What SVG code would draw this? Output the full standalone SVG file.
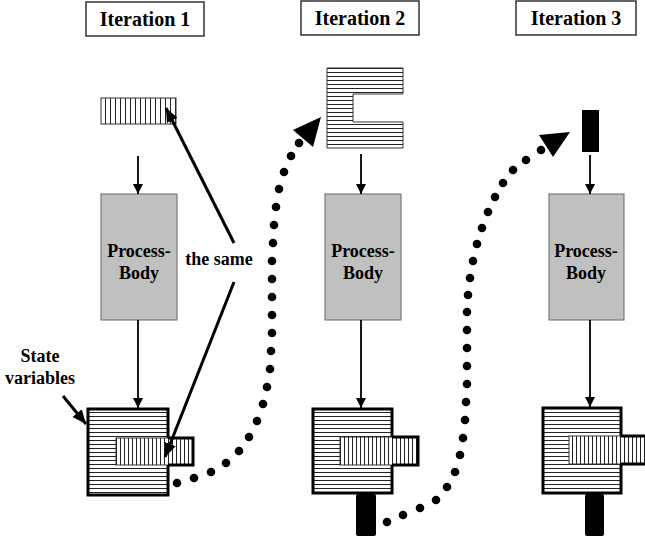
<svg xmlns="http://www.w3.org/2000/svg" width="645" height="539" viewBox="0 0 645 539">
<style>
text{font-family:'Liberation Serif','Times New Roman',Times,serif;font-weight:700;fill:#000}
.lbl{font-size:20px;text-anchor:middle}
.t18{font-size:18px;text-anchor:middle}
.lblbox{fill:#fff;stroke:#333;stroke-width:1.5}
.body{fill:#c0c0c0;stroke:#666;stroke-width:1}
.thin{stroke:#000;stroke-width:1.8;fill:none}
.thick{stroke:#000;stroke-width:3;fill:none}
.dot{fill:#000}
.bar{fill:#000}
</style>
<defs>
<pattern id="hh" width="4" height="4" patternUnits="userSpaceOnUse"><rect width="4" height="4" fill="#fff"/><rect y="0" width="4" height="1" fill="#222"/></pattern>
<pattern id="vv" width="4" height="4" patternUnits="userSpaceOnUse"><rect width="4" height="4" fill="#fff"/><rect x="0" width="1" height="4" fill="#222"/></pattern>
<pattern id="vv5" width="5" height="5" patternUnits="userSpaceOnUse"><rect width="5" height="5" fill="#fff"/><rect x="0" width="1" height="5" fill="#222"/></pattern>
<marker id="ah" markerUnits="userSpaceOnUse" markerWidth="10" markerHeight="10" refX="10" refY="5" orient="auto"><path d="M0,0 L10,5 L0,10 Z" fill="#000"/></marker>
<marker id="ahb" markerUnits="userSpaceOnUse" markerWidth="14" markerHeight="12" refX="14" refY="6" orient="auto"><path d="M0,0 L14,6 L0,12 Z" fill="#000"/></marker>
</defs>

<g id="label-iter1"><rect class="lblbox" x="86" y="2" width="118" height="34"/><text class="lbl" x="145" y="26" font-family="Liberation Serif, serif">Iteration 1</text></g>
<g id="label-iter2"><rect class="lblbox" x="301" y="1" width="118" height="34"/><text class="lbl" x="360" y="25" font-family="Liberation Serif, serif">Iteration 2</text></g>
<g id="label-iter3"><rect class="lblbox" x="516" y="1" width="120" height="34"/><text class="lbl" x="576" y="25" font-family="Liberation Serif, serif">Iteration 3</text></g>

<g id="input1"><rect x="101" y="98" width="75" height="26" fill="url(#vv5)" stroke="#333" stroke-width="1"/></g>
<g id="input2"><path d="M327,68 H403 V94 H353 V122 H403 V148 H327 Z" fill="url(#hh)" stroke="#333" stroke-width="1"/></g>
<g id="input3"><rect class="bar" x="582" y="110" width="17" height="42"/></g>

<g id="body1"><rect class="body" x="101" y="194" width="76" height="126"/><text class="t18" x="139" y="257">Process-</text><text class="t18" x="139" y="279">Body</text></g>
<g id="body2"><rect class="body" x="325" y="194" width="76" height="126"/><text class="t18" x="363" y="257">Process-</text><text class="t18" x="363" y="279">Body</text></g>
<g id="body3"><rect class="body" x="549" y="194" width="75" height="126"/><text class="t18" x="586" y="257">Process-</text><text class="t18" x="586" y="279">Body</text></g>

<g id="state1">
<rect x="88" y="409" width="80" height="86" fill="url(#hh)" stroke="#000" stroke-width="3"/>
<rect x="116" y="438" width="77" height="27" fill="url(#vv)" stroke="#333" stroke-width="1"/>
<path class="thick" d="M168,438 H193 V465 H168"/>
</g>
<g id="state2">
<rect x="313" y="409" width="79" height="84" fill="url(#hh)" stroke="#000" stroke-width="3"/>
<rect x="340" y="437" width="78" height="28" fill="url(#vv)" stroke="#333" stroke-width="1"/>
<path class="thick" d="M392,437 H418 V465 H392"/>
<rect class="bar" x="356" y="494" width="20" height="42" rx="2"/>
</g>
<g id="state3">
<rect x="543" y="408" width="78" height="85" fill="url(#hh)" stroke="#000" stroke-width="3"/>
<rect x="569" y="436" width="80" height="28" fill="url(#vv)" stroke="#333" stroke-width="1"/>
<path class="thick" d="M621,436 H648 M648,464 H621"/>
<rect class="bar" x="585" y="494" width="19" height="42" rx="2"/>
</g>

<g id="label-same"><text class="t18" x="219" y="265">the same</text></g>
<g id="label-state"><text class="t18" x="40" y="362">State</text><text class="t18" x="40" y="384">variables</text></g>

<g id="connectors">
<line class="thin" x1="138" y1="156" x2="138" y2="194" marker-end="url(#ah)"/>
<line class="thin" x1="361" y1="154" x2="361" y2="194" marker-end="url(#ah)"/>
<line class="thin" x1="590" y1="155" x2="590" y2="194" marker-end="url(#ah)"/>
<line class="thin" x1="138" y1="320" x2="138" y2="408" marker-end="url(#ah)"/>
<line class="thin" x1="361" y1="320" x2="361" y2="408" marker-end="url(#ah)"/>
<line class="thin" x1="590" y1="320" x2="590" y2="407" marker-end="url(#ah)"/>
<line class="thick" x1="234" y1="243" x2="166" y2="108" marker-end="url(#ahb)"/>
<line class="thick" x1="234" y1="282" x2="165" y2="457" marker-end="url(#ahb)"/>
<line class="thick" x1="63" y1="396" x2="86" y2="424" marker-end="url(#ahb)"/>
<g class="dot">
<circle cx="177" cy="483" r="4.3"/><circle cx="194" cy="478" r="4.3"/><circle cx="211" cy="472" r="4.3"/><circle cx="226" cy="463" r="4.3"/><circle cx="239" cy="451" r="4.3"/><circle cx="249" cy="437" r="4.3"/><circle cx="257" cy="421" r="4.3"/><circle cx="263" cy="404" r="4.3"/><circle cx="267" cy="387" r="4.3"/><circle cx="270" cy="369" r="4.3"/><circle cx="271" cy="351" r="4.3"/><circle cx="272" cy="333" r="4.3"/><circle cx="272" cy="315" r="4.3"/><circle cx="272" cy="297" r="4.3"/><circle cx="272" cy="279" r="4.3"/><circle cx="272" cy="261" r="4.3"/><circle cx="273" cy="243" r="4.3"/><circle cx="274" cy="225" r="4.3"/><circle cx="276" cy="207" r="4.3"/><circle cx="279" cy="189" r="4.3"/><circle cx="284" cy="172" r="4.3"/><circle cx="291" cy="156" r="4.3"/><circle cx="299" cy="143" r="4.3"/>
<polygon points="293,130 321,117 313,147"/>
<circle cx="387" cy="522" r="4.3"/><circle cx="403" cy="515" r="4.3"/><circle cx="420" cy="508" r="4.3"/><circle cx="436" cy="500" r="4.3"/><circle cx="447" cy="487" r="4.3"/><circle cx="455" cy="472" r="4.3"/><circle cx="460" cy="455" r="4.3"/><circle cx="463" cy="438" r="4.3"/><circle cx="465" cy="420" r="4.3"/><circle cx="466" cy="402" r="4.3"/><circle cx="467" cy="384" r="4.3"/><circle cx="467" cy="366" r="4.3"/><circle cx="467" cy="348" r="4.3"/><circle cx="467" cy="330" r="4.3"/><circle cx="467" cy="312" r="4.3"/><circle cx="468" cy="295" r="4.3"/><circle cx="470" cy="278" r="4.3"/><circle cx="473" cy="261" r="4.3"/><circle cx="477" cy="244" r="4.3"/><circle cx="482" cy="228" r="4.3"/><circle cx="488" cy="212" r="4.3"/><circle cx="495" cy="197" r="4.3"/><circle cx="503" cy="183" r="4.3"/><circle cx="513" cy="170" r="4.3"/><circle cx="526" cy="160" r="4.3"/><circle cx="541" cy="150" r="4.3"/>
<polygon points="539,135 570,132 553,157"/>
</g>
</g>
</svg>
